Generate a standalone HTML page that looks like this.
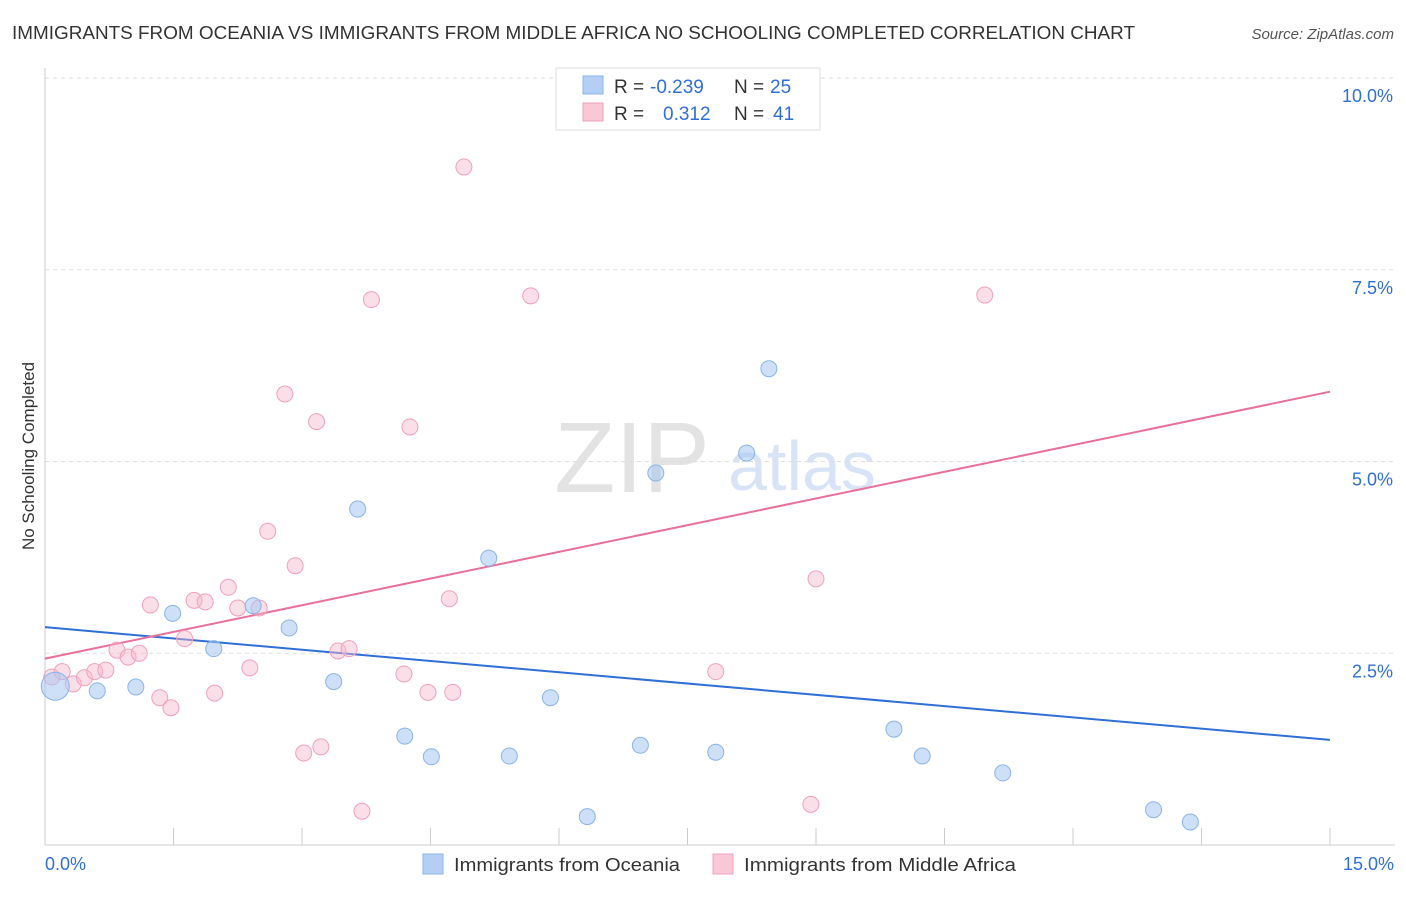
<!DOCTYPE html>
<html><head><meta charset="utf-8"><style>
body{margin:0;background:#fff;font-family:"Liberation Sans",sans-serif;}
svg text{font-family:"Liberation Sans",sans-serif;}
</style></head><body>
<svg id="chart" width="1406" height="892" xmlns="http://www.w3.org/2000/svg">
<text x="12" y="39" font-size="18.5" fill="#333" textLength="1123" lengthAdjust="spacingAndGlyphs">IMMIGRANTS FROM OCEANIA VS IMMIGRANTS FROM MIDDLE AFRICA NO SCHOOLING COMPLETED CORRELATION CHART</text>
<text x="1394" y="39" font-size="15" fill="#555" font-style="italic" text-anchor="end">Source: ZipAtlas.com</text>
<g>
<text x="632" y="492" font-size="100" fill="#d8d8d8" font-family="Liberation Serif" text-anchor="middle" opacity="0.7">ZIP</text>
<text x="802" y="490" font-size="70" fill="#c8daf2" text-anchor="middle" opacity="0.7">atlas</text>
</g>
<g id="grid"></g>
<g id="axes"></g>
<g id="lines"></g>
<g id="pts"></g>
<text x="34" y="456" font-size="17" fill="#333" text-anchor="middle" transform="rotate(-90 34 456)">No Schooling Completed</text>
<g>
<rect x="556" y="68" width="264" height="62" fill="#fff" stroke="#ddd"/>
<rect x="583" y="76" width="20" height="18" fill="#b4cff3" stroke="#8ab4e8"/>
<rect x="583" y="103" width="20" height="18" fill="#f9c8d6" stroke="#f0a0bc"/>
<text x="614" y="93" font-size="19" fill="#333">R = </text><text x="650" y="93" font-size="19" fill="#2f6fd6">-0.239</text>
<text x="734" y="93" font-size="19" fill="#333">N = </text><text x="770" y="93" font-size="19" fill="#2f6fd6">25</text>
<text x="614" y="120" font-size="19" fill="#333">R = </text><text x="663" y="120" font-size="19" fill="#2f6fd6">0.312</text>
<text x="734" y="120" font-size="19" fill="#333">N = </text><text x="773" y="120" font-size="19" fill="#2f6fd6">41</text>
</g>
<g>
<rect x="423" y="854" width="20" height="20" fill="#b4cff3" stroke="#8ab4e8"/>
<text x="454" y="871" font-size="18.5" fill="#333" textLength="226" lengthAdjust="spacingAndGlyphs">Immigrants from Oceania</text>
<rect x="713" y="854" width="20" height="20" fill="#f9c8d6" stroke="#f0a0bc"/>
<text x="744" y="871" font-size="18.5" fill="#333" textLength="272" lengthAdjust="spacingAndGlyphs">Immigrants from Middle Africa</text>
</g>
</svg>
<script>
const blueX=[0.12,0.61,1.06,1.49,1.97,2.43,2.85,3.37,3.65,4.20,4.51,5.18,5.42,5.90,6.33,6.95,7.13,7.83,8.19,8.45,9.91,10.24,11.18,12.94,13.37];
const blueY=[2.07,2.01,2.06,3.02,2.56,3.12,2.83,2.13,4.38,1.42,1.15,3.74,1.16,1.92,0.37,1.30,4.85,1.21,5.11,6.21,1.51,1.16,0.94,0.46,0.30];
const pinkX=[0.08,0.20,0.33,0.46,0.58,0.71,0.84,0.97,1.10,1.23,1.34,1.47,1.63,1.74,1.87,1.98,2.14,2.25,2.39,2.50,2.60,2.80,2.92,3.02,3.17,3.22,3.42,3.55,3.70,3.81,4.19,4.26,4.47,4.72,4.76,4.89,5.67,7.83,8.94,9.00,10.97];
const pinkY=[2.19,2.26,2.10,2.18,2.26,2.28,2.54,2.45,2.50,3.13,1.92,1.79,2.69,3.19,3.17,1.98,3.36,3.09,2.31,3.09,4.09,5.88,3.64,1.20,5.52,1.28,2.53,2.56,0.44,7.11,2.23,5.45,1.99,3.21,1.99,8.84,7.16,2.26,0.53,3.47,7.17];
const blueTrend=[2.84,1.37];
const pinkTrend=[2.43,5.91];
const yTicks=[2.5,5.0,7.5,10.0];
const yTickLabels=["2.5%","5.0%","7.5%","10.0%"];
const xTickLabels=["0.0%","15.0%"];
const X0=45,X1=1330,XMAX=15,Y0=845,YPX=76.7;
const sx=v=>X0+v/XMAX*(X1-X0);
const sy=v=>Y0-v*YPX;
const NS="http://www.w3.org/2000/svg";
function mk(tag,attrs,parent){const e=document.createElementNS(NS,tag);for(const k in attrs)e.setAttribute(k,attrs[k]);parent.appendChild(e);return e;}
const grid=document.getElementById('grid'),axes=document.getElementById('axes'),lines=document.getElementById('lines'),pts=document.getElementById('pts');
yTicks.forEach((t,i)=>{
 const l=mk('line',{x1:X0,x2:1395,y1:sy(t),y2:sy(t),stroke:'#ddd','stroke-dasharray':'4,4'},grid);
 
 
 const tx=mk('text',{x:1393,y:sy(t)+24,'font-size':18,fill:'#2f6fd6','text-anchor':'end'},axes);
 tx.textContent=yTickLabels[i];
 
 
});
mk('line',{x1:X0,x2:X0,y1:68,y2:Y0,stroke:'#ccc'},axes);
mk('line',{x1:X0,x2:1395,y1:Y0,y2:Y0,stroke:'#ccc'},axes);
for(let i=1;i<=10;i++){const x=sx(i*1.5);mk('line',{x1:x,x2:x,y1:828,y2:Y0,stroke:'#ccc'},axes);}
const xl0=mk('text',{x:45,y:870,'font-size':18,fill:'#2f6fd6'},axes);xl0.textContent=xTickLabels[0];


const xl1=mk('text',{x:1394,y:870,'font-size':18,fill:'#2f6fd6','text-anchor':'end'},axes);xl1.textContent=xTickLabels[1];


pinkX.forEach((x,i)=>{
 const c=mk('circle',{cx:sx(x),cy:sy(pinkY[i]),r:8,fill:'rgba(246,185,205,0.45)',stroke:'#f0a0bc','stroke-width':1},pts);
 
 
});
blueX.forEach((x,i)=>{
 const c=mk('circle',{cx:sx(x),cy:sy(blueY[i]),r:i===0?14:8,fill:'rgba(165,198,242,0.55)',stroke:'#8ab4e8','stroke-width':1},pts);
 
 
});
const bl=mk('line',{x1:sx(0),y1:sy(blueTrend[0]),x2:sx(15),y2:sy(blueTrend[1]),stroke:'#2f6fd6','stroke-width':2},lines);


const pl=mk('line',{x1:sx(0),y1:sy(pinkTrend[0]),x2:sx(15),y2:sy(pinkTrend[1]),stroke:'#e8709a','stroke-width':2},lines);


</script>
</body></html>
